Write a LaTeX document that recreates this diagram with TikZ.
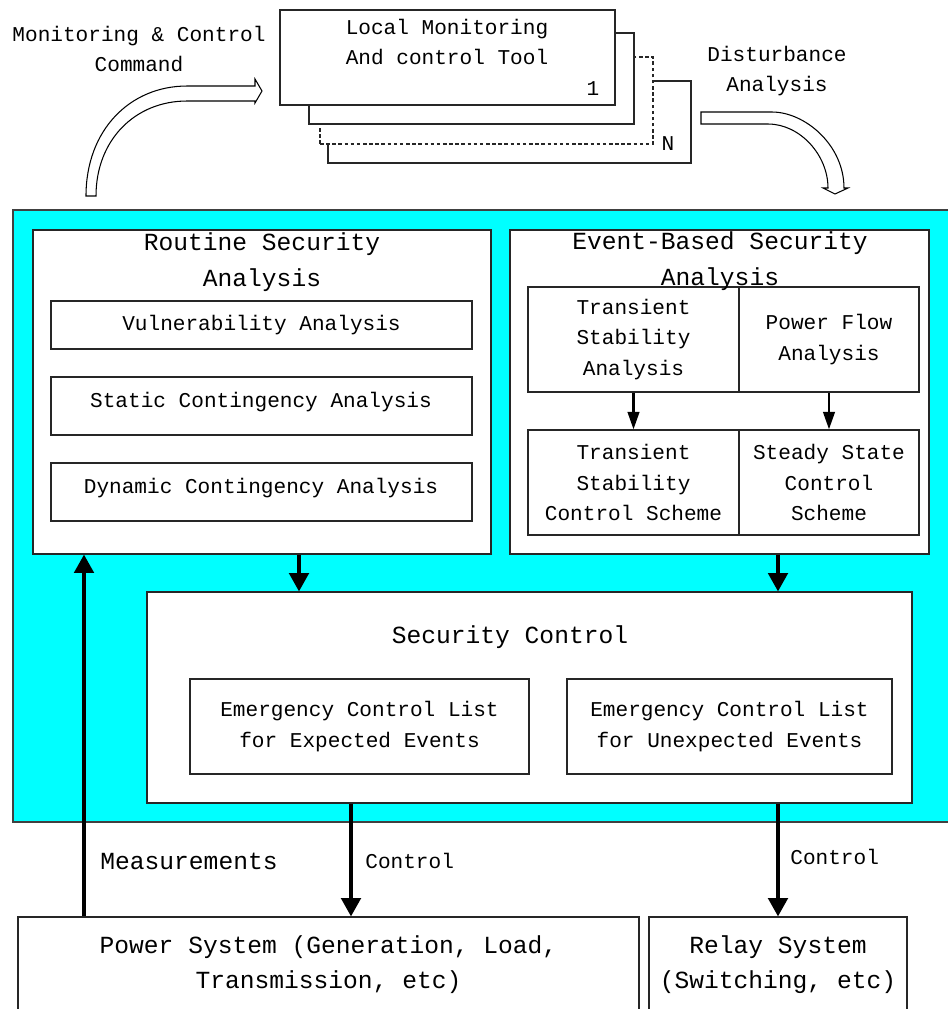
\documentclass[tikz,border=0pt]{standalone}
\usepackage{fontspec}
\usepackage{tikz}
\usetikzlibrary{arrows.meta,fit,positioning}
\newfontfamily\diagfont{Liberation Mono}
\newcommand{\smallfont}{\diagfont\fontsize{12}{17.4}\selectfont}
\newcommand{\largefont}{\diagfont\fontsize{14}{20.2}\selectfont}
\definecolor{bgcyan}{RGB}{0,255,255}

\begin{document}
\begin{tikzpicture}[x=0.02cm,y=-0.02cm,
  box/.style={draw=black!85,fill=white,line width=0.6pt,inner sep=0pt},
  txts/.style={inner sep=0pt,align=center,font=\smallfont},
  txtl/.style={inner sep=0pt,align=center,font=\largefont},
  bigarr/.style={-{Triangle[length=10.5pt,width=11pt]},line width=2.3pt},
  midarr/.style={-{Triangle[length=10pt,width=6.5pt]},line width=1.6pt},
  hollow/.style={draw=black,fill=white,line width=0.6pt}]
\clip (0,0) rectangle (948,1009);
\fill[white] (0,0) rectangle (948,1009);

% top: local tools and the two hollow arrows
\node[txts](cmd) at (139,49) {Monitoring \& Control\\Command};
\node[txts](dist) at (777,71) {Disturbance\\Analysis};
\draw[hollow] (86,196) .. controls (86,130) and (130,86) .. (187,86) -- (255,86) -- (255,79)
  -- (262,91) -- (255,103) -- (255,101) -- (187,101) .. controls (135,101) and (96,140) .. (96,196) -- cycle;
\draw[hollow] (701,112) -- (772,112) .. controls (805,112) and (844,145) .. (844,188) -- (848,188)
  -- (835,194) -- (823,188) -- (828,188) .. controls (828,155) and (800,124) .. (768,124) -- (701,124) -- cycle;
\node[box,fit={(328,81)(691,163)}](lmt4){};
\node[box,dashed,dash pattern=on 2pt off 1.5pt,fit={(320,57)(653,144)}](lmt3){};
\node[box,fit={(309,33)(634,124)}](lmt2){};
\node[box,fit={(280,10)(615,105)}](lmt1){};
\node[txts](lmttxt) at (447,42) {Local Monitoring\\And control Tool};
\node[txts](one) at (593,89) {1};
\node[txts](enn) at (668,144) {N};

% analysis area
\node[draw=black!75,fill=bgcyan,line width=0.6pt,inner sep=0pt,fit={(13,210)(960,822)}](bg){};

\node[box,fit={(33,230)(491,554)}](rsa){};
\node[txtl](rsatitle) at (262,262) {Routine Security\\Analysis};
\node[box,fit={(51,301)(472,349)}](va){};
\node[txts](vatxt) at (va.center) {Vulnerability Analysis};
\node[box,fit={(51,377)(472,435)}](sca){};
\node[txts](scatxt) at (261,402) {Static Contingency Analysis};
\node[box,fit={(51,463)(472,521)}](dca){};
\node[txts](dcatxt) at (261,488) {Dynamic Contingency Analysis};

\node[box,fit={(510,230)(929,554)}](esa){};
\node[box,fit={(528,287)(739,392)}](tsa){};
\node[txts](tsatxt) at (tsa.center) {Transient\\Stability\\Analysis};
\node[box,fit={(739,287)(919,392)}](pfa){};
\node[txts](pfatxt) at (pfa.center) {Power Flow\\Analysis};
\node[box,fit={(528,430)(739,535)}](tsc){};
\node[txts](tsctxt) at (tsc.center) {Transient\\Stability\\Control Scheme};
\node[box,fit={(739,430)(919,535)}](ssc){};
\node[txts](ssctxt) at (ssc.center) {Steady State\\Control\\Scheme};
\node[txtl](esatitle) at (720,261) {Event-Based Security\\Analysis};
\draw[midarr] (tsa.south) -- (tsc.north);
\draw[midarr] (pfa.south) -- (ssc.north);

\node[box,fit={(147,592)(912,803)}](sc){};
\node[txtl](sctitle) at (510,637) {Security Control};
\node[box,fit={(190,679)(529,774)}](ece){};
\node[txts](ecetxt) at (ece.center) {Emergency Control List\\for Expected Events};
\node[box,fit={(567,679)(892,774)}](ecu){};
\node[txts](ecutxt) at (ecu.center) {Emergency Control List\\for Unexpected Events};

% plant
\node[box,fit={(18,917)(639,1012)}](ps){};
\node[txtl](pstxt) at (ps.center) {Power System (Generation, Load,\\Transmission, etc)};
\node[box,fit={(649,917)(907,1012)}](rs){};
\node[txtl](rstxt) at (rs.center) {Relay System\\(Switching, etc)};

% connectors
\coordinate (xm) at (84,0);
\coordinate (xa) at (299,0);
\coordinate (xc) at (351,0);
\coordinate (xe) at (778,0);
\draw[bigarr] (rsa.south -| xa) -- (sc.north -| xa);
\draw[bigarr] (esa.south -| xe) -- (sc.north -| xe);
\draw[bigarr] (sc.south -| xc) -- (ps.north -| xc);
\draw[bigarr] (sc.south -| xe) -- (rs.north -| xe);
\draw[bigarr] (ps.north -| xm) -- (rsa.south -| xm);

\node[txtl](meas) at (189,861) {Measurements};
\node[txts,anchor=west](ctl1) at (365,861) {Control};
\node[txts,anchor=west](ctl2) at (790,857) {Control};
\end{tikzpicture}
\end{document}
